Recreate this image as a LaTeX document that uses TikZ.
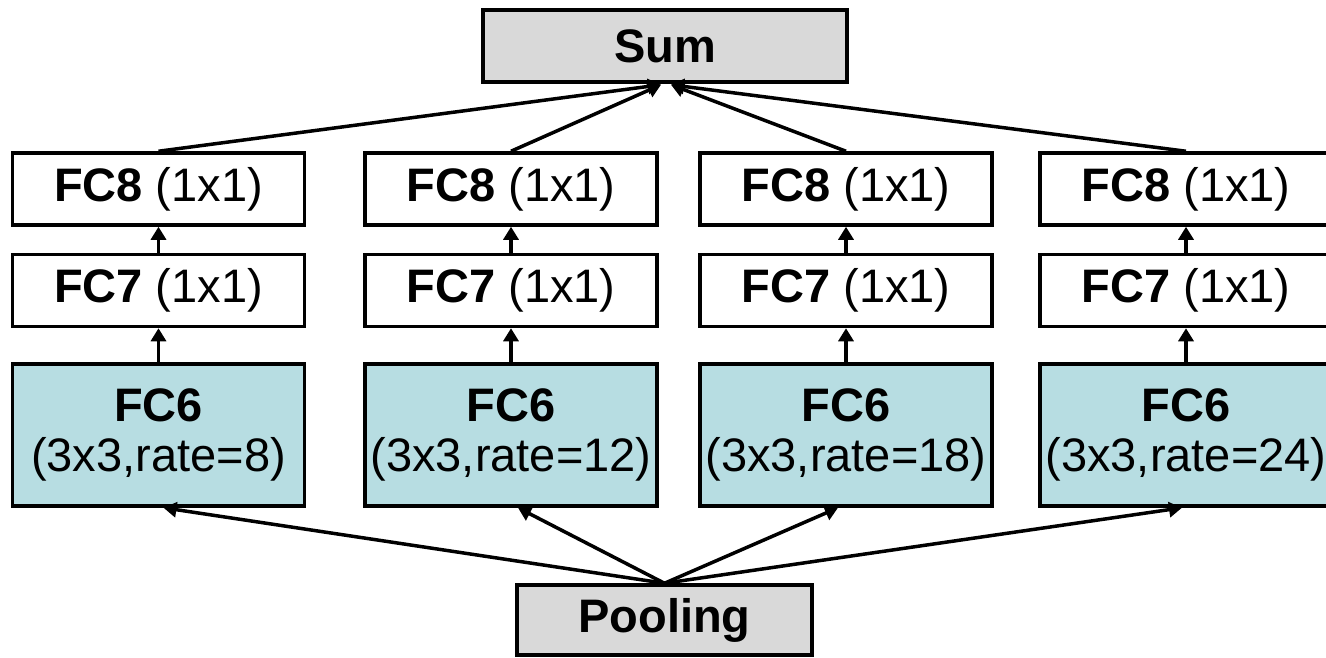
\documentclass[tikz,border=0pt]{standalone}
\usepackage{fontspec}
\setmainfont{Liberation Sans}
\usetikzlibrary{arrows.meta}

\definecolor{boxgray}{RGB}{217,217,217}
\definecolor{boxteal}{RGB}{183,221,226}

\begin{document}
\begin{tikzpicture}[x=1pt,y=-1pt,
  every node/.style={font=\fontsize{47}{50}\selectfont, inner sep=0pt, line width=3.5pt, draw=black},
  layer/.style={rectangle, minimum width=292pt, minimum height=72pt, fill=white},
  conv/.style={rectangle, minimum width=292pt, minimum height=142pt, fill=boxteal, align=center},
  endbox/.style={rectangle, fill=boxgray, font=\fontsize{47}{50}\selectfont\bfseries},
  arr/.style={line width=3.5pt, -{Triangle[length=13pt,width=15pt]}}
]
\useasboundingbox (0,0) rectangle (1326,657);
\clip (0,0) rectangle (1326,657);

% top and bottom blocks
\node[endbox, minimum width=364pt, minimum height=72pt] (sum) at (665,46) {Sum};
\node[endbox, minimum width=295pt, minimum height=70pt] (pool) at (664.5,620) {Pooling};

% four parallel branches
\foreach \i/\cx/\r in {1/158.5/8, 2/511/12, 3/846/18, 4/1186/24} {
  \node[layer] (fc8\i) at (\cx,189)   {\textbf{FC8} (1x1)};
  \node[layer] (fc7\i) at (\cx,290.5) {\textbf{FC7} (1x1)};
  \node[conv]  (fc6\i) at (\cx,435)   {\textbf{FC6}\\(3x3,rate=\r)};
  \draw[arr] (fc6\i.north) -- (fc7\i.south);
  \draw[arr] (fc7\i.north) -- (fc8\i.south);
}

% branches into the sum
\draw[arr] (fc81.north) -- ([xshift=-4pt,yshift=-1pt]sum.south);
\draw[arr] (fc82.north) -- ([xshift=-4pt,yshift=-1pt]sum.south);
\draw[arr] (fc83.north) -- ([xshift=6pt,yshift=-1pt]sum.south);
\draw[arr] (fc84.north) -- ([xshift=6pt,yshift=-1pt]sum.south);

% pooling feeds every branch
\draw[arr] (pool.north) -- ([xshift=5pt]fc61.south);
\draw[arr] (pool.north) -- ([xshift=7pt]fc62.south);
\draw[arr] (pool.north) -- ([xshift=-8pt]fc63.south);
\draw[arr] (pool.north) -- ([xshift=-4pt]fc64.south);
\end{tikzpicture}
\end{document}
